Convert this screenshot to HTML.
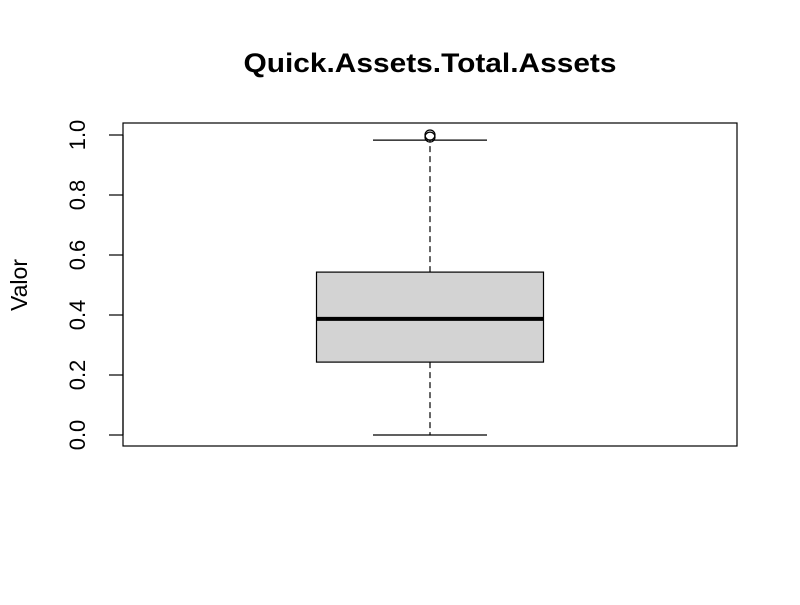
<!DOCTYPE html>
<html><head><meta charset="utf-8"><style>
body{margin:0;background:#fff}
svg text{font-family:"Liberation Sans",Arial,sans-serif}
</style></head><body>
<svg id="chart" width="800" height="600" viewBox="0 0 800 600">
<rect width="800" height="600" fill="#fff"/>
<text x="430" y="72" text-anchor="middle" font-size="27" font-weight="bold" textLength="373" lengthAdjust="spacingAndGlyphs">Quick.Assets.Total.Assets</text>
<rect x="123" y="123" width="614" height="323" fill="none" stroke="#000" stroke-width="1.2"/>
<text transform="translate(27,285) rotate(-90)" text-anchor="middle" font-size="23">Valor</text>
<g id="yaxis"></g>
<g id="marks"></g>
</svg>
<script>
const yTicks=[0,0.2,0.4,0.6,0.8,1.0];
const tickLabels=["0.0","0.2","0.4","0.6","0.8","1.0"];
const stats=[0.0,0.243,0.387,0.543,0.983]; // min, q1, median, q3, max whisker
const outliers=[1.0,0.993];
const NS="http://www.w3.org/2000/svg";
function y(v){return 435-300*v;}
const cx=430, boxHalf=113.5, capHalf=57;
function el(tag,attrs,parent){const e=document.createElementNS(NS,tag);for(const k in attrs)e.setAttribute(k,attrs[k]);parent.appendChild(e);return e;}
const ya=document.getElementById('yaxis');
el('line',{x1:123,x2:123,y1:y(yTicks[0]),y2:y(yTicks[yTicks.length-1]),stroke:'#000','stroke-width':1.2},ya);
yTicks.forEach((t,i)=>{
  const l=el('line',{x1:109,x2:123,y1:y(t),y2:y(t),stroke:'#000','stroke-width':1.2},ya);
  
  
  const tx=el('text',{transform:`translate(85,${y(t)}) rotate(-90)`,'text-anchor':'middle','font-size':22},ya);
  tx.textContent=tickLabels[i];
  
  
});
const m=document.getElementById('marks');
const [mn,q1,med,q3,mx]=stats;
let w1=el('line',{x1:cx,x2:cx,y1:y(q1),y2:y(mn),stroke:'#000','stroke-width':1.2,'stroke-dasharray':'6,4'},m);


let w2=el('line',{x1:cx,x2:cx,y1:y(q3),y2:y(mx),stroke:'#000','stroke-width':1.2,'stroke-dasharray':'6,4'},m);


let c1=el('line',{x1:cx-capHalf,x2:cx+capHalf,y1:y(mn),y2:y(mn),stroke:'#000','stroke-width':1.2},m);


let c2=el('line',{x1:cx-capHalf,x2:cx+capHalf,y1:y(mx),y2:y(mx),stroke:'#000','stroke-width':1.2},m);


let b=el('rect',{x:cx-boxHalf,y:y(q3),width:2*boxHalf,height:y(q1)-y(q3),fill:'#d3d3d3',stroke:'#000','stroke-width':1.2},m);


let md=el('line',{x1:cx-boxHalf,x2:cx+boxHalf,y1:y(med),y2:y(med),stroke:'#000','stroke-width':4},m);


outliers.forEach(o=>{
  const c=el('circle',{cx:cx,cy:y(o),r:5,fill:'none',stroke:'#000','stroke-width':1.2},m);
  
  
});
</script>
</body></html>
